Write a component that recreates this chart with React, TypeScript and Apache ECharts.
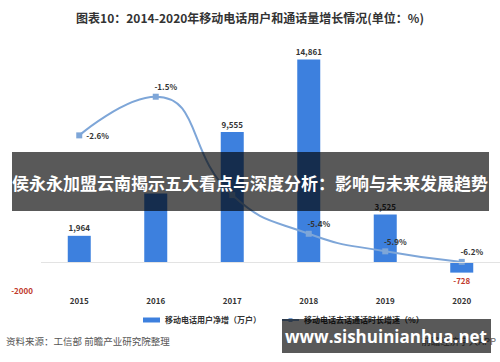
import React, { useEffect, useRef } from "react";
import * as echarts from "echarts";

const years = ["2015", "2016", "2017", "2018", "2019", "2020"];
const netAdds = [1964, 5054, 9555, 14861, 3525, -728];
const callGrowth = [-2.6, -1.5, -4.3, -5.4, -5.9, -6.2];
const hiddenBarLabelYears = ["2016"];
const hiddenLineLabelYears = ["2017"];
const barName = "移动电话用户净增（万户）";
const lineName = "移动电话去话通话时长增速（%）";
const titleText = "图表10：2014-2020年移动电话用户和通话量增长情况(单位：%)";
const sourceText = "资料来源：工信部 前瞻产业研究院整理";
const bannerText = "侯永永加盟云南揭示五大看点与深度分析：影响与未来发展趋势";
const siteText = "www.sishuinianhua.net";

const FONT = "'Noto Sans CJK SC', 'Noto Sans', sans-serif";

export default function App() {
  const ref = useRef<HTMLDivElement>(null);
  useEffect(() => {
    if (!ref.current) return;
    const chart = echarts.init(ref.current, null, { renderer: "svg" });
    const fmt = (v: number) => v.toLocaleString("en-US");
    chart.setOption({
      animation: false,
      backgroundColor: "#ffffff",
      textStyle: { fontFamily: FONT },
      title: {
        text: titleText,
        left: "center",
        top: 6,
        textStyle: { fontSize: 12, fontWeight: "bold", color: "#333", fontFamily: FONT },
      },
      legend: {
        left: 138,
        top: 311,
        itemGap: 20,
        itemWidth: 17,
        itemHeight: 5,
        textStyle: { fontSize: 8, fontWeight: "bold", color: "#333", fontFamily: FONT },
        data: [
          { name: barName, icon: "rect" },
          { name: lineName },
        ],
      },
      grid: { left: 41, top: 44, width: 466, height: 246 },
      xAxis: {
        type: "category",
        data: years,
        axisLine: { show: false, onZero: false },
        axisTick: { show: false },
        axisLabel: { margin: 6, fontSize: 8, fontWeight: "bold", color: "#333", fontFamily: FONT },
      },
      yAxis: [
        {
          type: "value",
          min: -2000,
          max: 16000,
          interval: 2000,
          axisLine: { show: false },
          axisTick: { show: false },
          splitLine: { show: false },
          axisLabel: {
            margin: 8,
            fontSize: 8,
            fontWeight: "bold",
            color: "#c0392b",
            fontFamily: FONT,
            formatter: (v: number) => (v === -2000 ? String(v) : ""),
          },
        },
        {
          type: "value",
          min: -7,
          max: 0,
          show: false,
          splitLine: { show: false },
        },
      ],
      series: [
        {
          name: barName,
          type: "bar",
          barWidth: 23,
          itemStyle: { color: "#3d80de" },
          label: {
            show: true,
            position: "top",
            distance: 4,
            fontSize: 8,
            fontWeight: "bold",
            color: "#333",
            fontFamily: FONT,
            formatter: (p: any) => fmt(p.value),
          },
          data: netAdds.map((v, i) => {
            if (hiddenBarLabelYears.indexOf(years[i]) >= 0) return { value: v, label: { show: false } };
            if (v < 0) return { value: v, label: { position: "bottom", color: "#c0392b", distance: 4 } };
            return v;
          }),
          markLine: {
            silent: true,
            symbol: "none",
            label: { show: false },
            lineStyle: { color: "#e3e3e3", width: 1, type: "solid" },
            data: [{ yAxis: 0 }],
          },
          z: 2,
        },
        {
          name: lineName,
          type: "line",
          yAxisIndex: 1,
          smooth: 0.5,
          symbol: "rect",
          symbolSize: 6,
          lineStyle: { color: "#7ea6d8", width: 2 },
          itemStyle: { color: "#7ea6d8" },
          label: {
            show: true,
            position: "top",
            distance: 3,
            offset: [10, 0],
            fontSize: 8,
            fontWeight: "bold",
            color: "#333",
            fontFamily: FONT,
            formatter: (p: any) => p.value.toFixed(1) + "%",
          },
          data: callGrowth.map((v, i) => {
            if (i === 0) return { value: v, label: { position: "right", offset: [0, 0], distance: 4 } };
            if (hiddenLineLabelYears.indexOf(years[i]) >= 0) return { value: v, label: { show: false } };
            return v;
          }),
          z: 3,
        },
      ],
      graphic: [
        {
          type: "text",
          left: 6,
          top: 336,
          style: { text: sourceText, fontSize: 9.5, fill: "#555", fontFamily: FONT },
        },
        {
          type: "text",
          right: 4,
          top: 336,
          style: { text: "前瞻经济学人APP", fontSize: 9.5, fill: "#666", fontFamily: FONT },
        },
        {
          type: "rect",
          z: 100,
          shape: { x: 12, y: 152, width: 477, height: 59 },
          style: { fill: "rgba(0,0,0,0.65)" },
        },
        {
          type: "text",
          z: 101,
          x: 250,
          y: 182,
          style: {
            text: bannerText,
            fontSize: 17,
            fontWeight: "bold",
            fill: "#ffffff",
            align: "center",
            verticalAlign: "middle",
            fontFamily: FONT,
          },
        },
        {
          type: "rect",
          z: 100,
          shape: { x: 282, y: 319, width: 209, height: 34 },
          style: { fill: "rgba(0,0,0,0.65)" },
        },
        {
          type: "text",
          z: 101,
          x: 386,
          y: 336,
          style: {
            text: siteText,
            fontSize: 17,
            fontWeight: "bold",
            fill: "#ffffff",
            align: "center",
            verticalAlign: "middle",
            fontFamily: "'Open Sans', 'Noto Sans', sans-serif",
          },
        },
      ],
    });
    return () => chart.dispose();
  }, []);
  return (
    <div
      ref={ref}
      style={{ position: "fixed", left: 0, top: 0, width: 500, height: 362, background: "#fff" }}
    />
  );
}
